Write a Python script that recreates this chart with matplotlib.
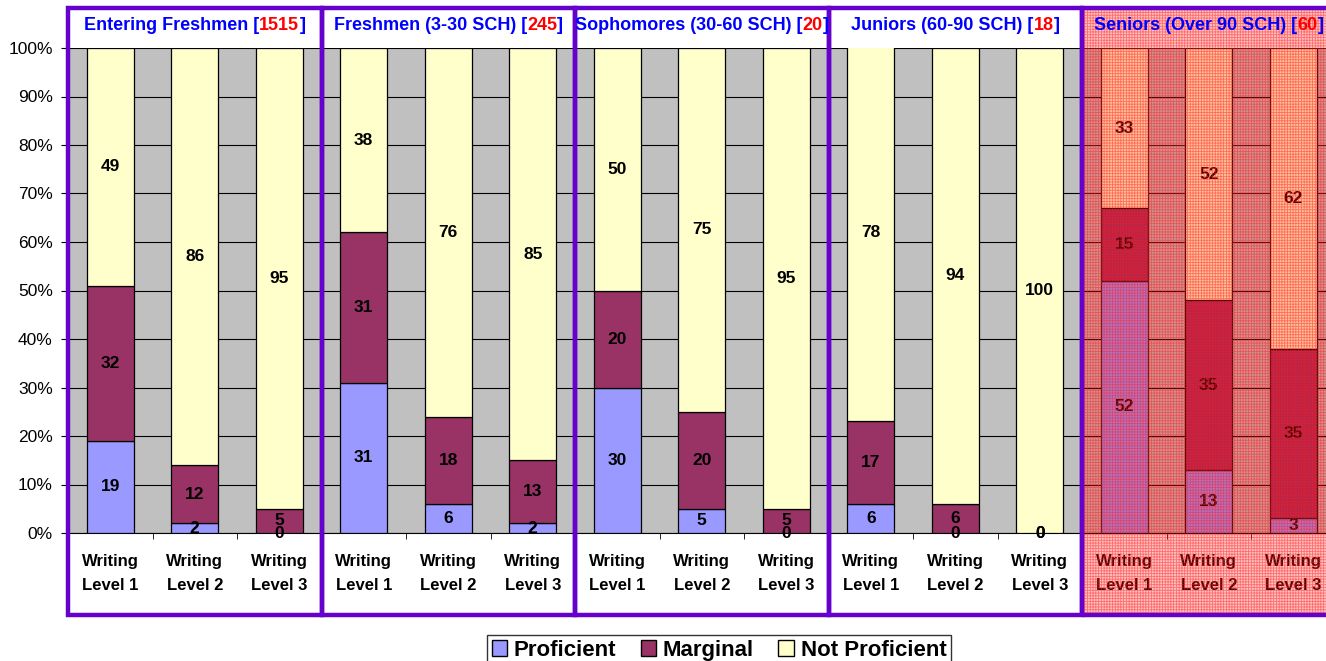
import numpy as np
import matplotlib.pyplot as plt
from matplotlib.patches import Rectangle, Patch
from matplotlib.transforms import blended_transform_factory

plt.rcParams['font.family'] = ['Liberation Sans', 'DejaVu Sans']
plt.rcParams['hatch.linewidth'] = 0.6

# data
categories = ['Writing\nLevel 1', 'Writing\nLevel 2', 'Writing\nLevel 3'] * 5
group_names = ['Entering Freshmen', 'Freshmen (3-30 SCH)', 'Sophomores (30-60 SCH)',
               'Juniors (60-90 SCH)', 'Seniors (Over 90 SCH)']
group_n = [1515, 245, 20, 18, 60]
proficient = [19, 2, 0, 31, 6, 2, 30, 5, 0, 6, 0, 0, 52, 13, 3]
marginal = [32, 12, 5, 31, 18, 13, 20, 20, 5, 17, 6, 0, 15, 35, 35]
not_proficient = [49, 86, 95, 38, 76, 85, 50, 75, 95, 78, 94, 100, 33, 52, 62]
series_names = ['Proficient', 'Marginal', 'Not Proficient']
colors = ['#9999FF', '#993366', '#FFFFCC']

W, H = 1326, 661
fig = plt.figure(figsize=(W / 100, H / 100), dpi=100)
ax = fig.add_axes([68 / W, 128 / H, (1335.5 - 68) / W, 485 / H])
ax.set_facecolor('#C0C0C0')

x = np.arange(len(categories))
bottom = np.zeros(len(categories))
for vals, col in zip([proficient, marginal, not_proficient], colors):
    vals = np.array(vals)
    ax.bar(x, vals / 100, 0.56, bottom=bottom / 100, color=col, edgecolor='black',
           linewidth=0.9, zorder=3)
    for xi, b, v in zip(x, bottom, vals):
        ax.text(xi, (b + v / 2) / 100, str(v), ha='center', va='center',
                fontsize=12.5, fontweight='bold', zorder=5)
    bottom = bottom + vals

ax.set_xlim(-0.5, len(categories) - 0.5)
ax.set_ylim(0, 1)
ax.set_yticks(np.arange(0, 1.01, 0.1))
ax.set_yticklabels([f'{i}%' for i in range(0, 101, 10)], fontsize=12.5)
ax.yaxis.grid(True, color='black', linewidth=0.8, zorder=0)
ax.set_axisbelow(True)
ax.set_xticks(x)
ax.set_xticklabels(categories, fontsize=12, fontweight='bold', linespacing=1.75)
ax.set_xticks(x[:-1] + 0.5, minor=True)
ax.tick_params(axis='x', which='major', length=0, pad=15)
ax.tick_params(axis='x', which='minor', length=4, direction='out')
ax.tick_params(axis='y', length=5, direction='out', pad=6)
for s in ['top', 'right']:
    ax.spines[s].set_visible(False)
ax.spines['bottom'].set_linewidth(0.8)

# group boxes
tr = blended_transform_factory(ax.transData, fig.transFigure)
purple = '#6600CC'
for g in range(5):
    fig.add_artist(Rectangle((3 * g - 0.5, 46 / H), 3, (615 - 8) / H, transform=tr,
                             fill=False, edgecolor=purple, linewidth=3.2, zorder=20,
                             clip_on=False))

# seniors overlay
fig.add_artist(Rectangle((11.5, 46 / H), 4, (615 - 8) / H, transform=tr,
                         facecolor=(1, 0, 0, 0.24), edgecolor=(1, 0.1, 0.1, 0.5),
                         linewidth=0, hatch='++++++', zorder=15, clip_on=False))

# headers with coloured counts
renderer = fig.canvas.get_renderer()
hy = (H - 26) / H
for g, (name, n) in enumerate(zip(group_names, group_n)):
    parts = [(name + ' [', '#0000FF'), (str(n), '#FF0000'), (']', '#0000FF')]
    texts = [fig.text(0, hy, s, color=c, fontsize=13, fontweight='bold',
                      va='center', ha='left', zorder=25) for s, c in parts]
    widths = [t.get_window_extent(renderer).width for t in texts]
    cx = ax.transData.transform((3 * g + 1, 0))[0]
    px = cx - sum(widths) / 2
    for t, w in zip(texts, widths):
        t.set_x(px / W)
        px += w

handles = [Patch(facecolor=c, edgecolor='black', linewidth=1) for c in colors]
leg = fig.legend(handles, series_names, loc='upper center', ncol=3,
                 bbox_to_anchor=(719 / W, 1 - 624 / H),
                 prop={'size': 16, 'weight': 'bold'}, frameon=True, fancybox=False,
                 edgecolor='black', handlelength=0.7, handleheight=0.7,
                 handletextpad=0.3, columnspacing=1.1, borderpad=0.2)
leg.get_frame().set_linewidth(1)

plt.savefig('out.png', dpi=100)
